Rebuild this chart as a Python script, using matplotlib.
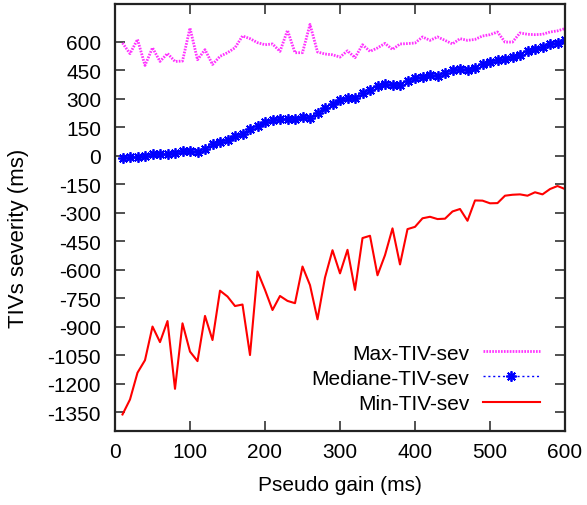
import matplotlib
matplotlib.use("Agg")
import matplotlib.pyplot as plt
from matplotlib.ticker import FixedLocator

plt.rcParams['font.family'] = ['Liberation Sans', 'DejaVu Sans']
plt.rcParams['axes.unicode_minus'] = False

pseudo_gain = list(range(10, 601, 10))

max_sev = [593, 537, 612, 475, 568, 496, 538, 496, 498, 672,
           505, 558, 480, 523, 542, 568, 630, 616, 595, 584,
           588, 549, 660, 542, 542, 691, 546, 535, 531, 519,
           552, 516, 584, 549, 567, 591, 559, 588, 590, 593,
           625, 607, 625, 607, 588, 616, 607, 612, 630, 637,
           651, 598, 598, 646, 639, 637, 639, 651, 657, 669]

median_sev = [-14, -9, -5, 0, 7, 9, 11, 16, 25, 23,
              18, 34, 63, 72, 84, 102, 116, 139, 155, 176,
              185, 192, 194, 194, 204, 197, 224, 250, 274, 294,
              301, 306, 331, 348, 366, 375, 373, 373, 394, 410,
              415, 422, 421, 437, 449, 454, 452, 464, 482, 493,
              503, 510, 521, 531, 553, 559, 570, 586, 591, 609]

min_sev = [-1363, -1284, -1143, -1077, -900, -982, -871, -1228, -883, -1032,
           -1082, -844, -971, -711, -742, -792, -784, -1050, -610, -707,
           -813, -739, -765, -777, -584, -682, -862, -642, -498, -620,
           -496, -707, -434, -422, -630, -524, -383, -573, -387, -375,
           -330, -322, -334, -332, -294, -281, -343, -236, -237, -251,
           -250, -211, -206, -204, -211, -193, -204, -176, -160, -176]

x_ticks = [0, 100, 200, 300, 400, 500, 600]
y_ticks = list(range(-1350, 601, 150))

W, H = 587, 506
fig = plt.figure(figsize=(W / 100, H / 100), dpi=100)
ax = fig.add_axes([115 / W, 1 - 432 / H, (565 - 115) / W, (432 - 4.7) / H])

ax.plot(pseudo_gain, max_sev, color='#ff33ff', lw=2.0, ls=(0, (0.6, 0.45)),
        label='Max-TIV-sev')
ax.plot(pseudo_gain, median_sev, color='#0000ff', lw=1.0, ls=(0, (1.5, 2)),
        marker=(8, 2, 0), markersize=7.5, markeredgewidth=1.3,
        label='Mediane-TIV-sev')
ax.plot(pseudo_gain, min_sev, color='#ff0000', lw=1.5, ls='-',
        label='Min-TIV-sev')

ax.set_xlim(0, 600)
ax.set_ylim(-1450, 800)
ax.xaxis.set_major_locator(FixedLocator(x_ticks))
ax.yaxis.set_major_locator(FixedLocator(y_ticks))
ax.tick_params(direction='in', length=7, width=1.2, labelsize=15,
               top=True, right=True, color='#333333')
ax.tick_params(axis='x', pad=8)
ax.tick_params(axis='y', pad=10)
for s in ax.spines.values():
    s.set_linewidth(1.6)
    s.set_color('#222222')

ax.set_xlabel('Pseudo gain (ms)', fontsize=15)
ax.set_ylabel('TIVs severity (ms)', fontsize=16)
ax.xaxis.set_label_coords(0.5, -(486 - 432) / (432 - 4.7), transform=ax.transAxes)
ax.yaxis.set_label_coords(-(115 - 18) / 450, (432 - 238) / (432 - 4.7), transform=ax.transAxes)
ax.xaxis.label.set_va('center')
ax.yaxis.label.set_va('center')

leg = ax.legend(loc='lower right', bbox_to_anchor=(540 / W, 1 - 414 / H),
                bbox_transform=fig.transFigure, frameon=False,
                markerfirst=False, fontsize=15, handlelength=2.75,
                handletextpad=0.65, labelspacing=0.3, borderpad=0,
                borderaxespad=0, numpoints=1)
for t in leg.get_texts():
    t.set_ha('right')

fig.savefig('out.png', dpi=100)
